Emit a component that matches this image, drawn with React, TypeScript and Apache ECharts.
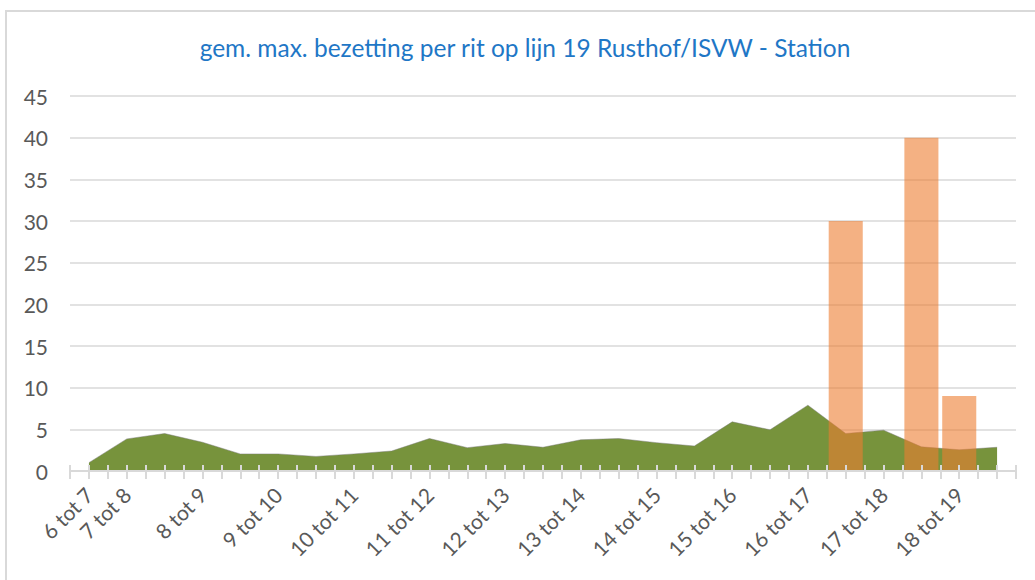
import React, { useEffect, useRef } from "react";
import * as echarts from "echarts";

const titleText = "gem. max. bezetting per rit op lijn 19 Rusthof/ISVW - Station";

const categories = [
  "6 tot 7", "7 tot 8", "", "8 tot 9", "", "9 tot 10", "", "10 tot 11", "",
  "11 tot 12", "", "12 tot 13", "", "13 tot 14", "", "14 tot 15", "",
  "15 tot 16", "", "16 tot 17", "", "17 tot 18", "", "18 tot 19", "",
];

const areaValues = [
  1.0, 3.85, 4.5, 3.45, 2.05, 2.05, 1.75, 2.05, 2.4, 3.9, 2.8, 3.3, 2.85,
  3.75, 3.9, 3.4, 3.0, 5.9, 4.95, 7.9, 4.5, 4.9, 2.9, 2.55, 2.85,
];

const barValues = [
  null, null, null, null, null, null, null, null, null, null, null, null, null,
  null, null, null, null, null, null, null, 30, null, 40, 9, null,
];

const yTicks = [0, 5, 10, 15, 20, 25, 30, 35, 40, 45];

const FONT = "Lato";
const GRAY = "#595959";
const LINE = "#d9d9d9";

export default function App() {
  const ref = useRef<HTMLDivElement>(null);

  useEffect(() => {
    if (!ref.current) return;
    const chart = echarts.init(ref.current, null, { renderer: "svg" });
    const halfSlots = categories.length * 2;
    chart.setOption({
      animation: false,
      backgroundColor: "#ffffff",
      graphic: [
        {
          type: "rect",
          shape: { x: 6, y: 11, width: 1060, height: 600 },
          style: { fill: "none", stroke: LINE, lineWidth: 2 },
          silent: true,
          z: -10,
        },
        {
          type: "text",
          x: 525,
          y: 47,
          style: {
            text: titleText,
            fill: "#1f77c6",
            font: `24.5px ${FONT}`,
            textAlign: "center",
            textVerticalAlign: "middle",
          },
        },
      ],
      grid: { left: 70, right: 19, top: 96, bottom: 109, containLabel: false },
      xAxis: [
        {
          type: "category",
          data: categories,
          boundaryGap: true,
          axisLine: { show: true, lineStyle: { color: LINE, width: 2 } },
          axisTick: { show: false },
          axisLabel: {
            interval: 0,
            rotate: 45,
            margin: 20,
            color: GRAY,
            fontFamily: FONT,
            fontSize: 21,
          },
          splitLine: { show: false },
          z: 10,
        },
        {
          type: "value",
          min: 0,
          max: halfSlots,
          interval: 1,
          position: "bottom",
          axisLine: { show: false },
          axisTick: { show: true, inside: false, length: 8, lineStyle: { color: LINE, width: 2 } },
          axisLabel: { show: false },
          splitLine: { show: false },
          z: 10,
        },
        {
          type: "value",
          min: 0,
          max: halfSlots,
          interval: 1,
          position: "bottom",
          axisLine: { show: false },
          axisTick: { show: true, inside: true, length: 6, lineStyle: { color: LINE, width: 2 } },
          axisLabel: { show: false },
          splitLine: { show: false },
          z: 10,
        },
      ],
      yAxis: {
        type: "value",
        min: 0,
        max: yTicks[yTicks.length - 1],
        interval: 5,
        axisLine: { show: false },
        axisTick: { show: false },
        axisLabel: {
          color: GRAY,
          fontFamily: FONT,
          fontSize: 21,
          margin: 22,
        },
        splitLine: { lineStyle: { color: LINE, width: 1.5 } },
      },
      series: [
        {
          type: "line",
          name: "gem. max. bezetting",
          data: areaValues,
          xAxisIndex: 0,
          symbol: "none",
          lineStyle: { color: "rgba(120,120,120,0.45)", width: 1 },
          areaStyle: { color: "#77933c", opacity: 1 },
          z: 2,
        },
        {
          type: "bar",
          name: "max. bezetting",
          data: barValues,
          xAxisIndex: 0,
          barCategoryGap: "10%",
          itemStyle: { color: "rgba(237,125,49,0.6)" },
          z: 3,
        },
      ],
    });
    return () => chart.dispose();
  }, []);

  return (
    <div
      ref={ref}
      style={{ position: "fixed", left: 0, top: 0, width: 1035, height: 580, background: "#fff" }}
    />
  );
}
